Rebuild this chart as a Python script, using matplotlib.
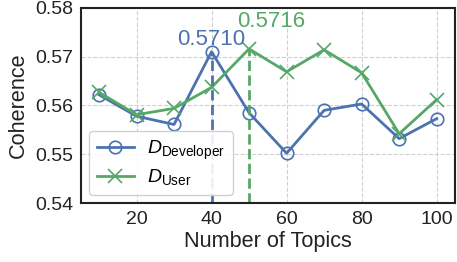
import matplotlib
matplotlib.use("Agg")
import matplotlib.pyplot as plt

topics = [10, 20, 30, 40, 50, 60, 70, 80, 90, 100]
coh_dev = [0.5622, 0.5578, 0.5561, 0.5710, 0.5585, 0.5502, 0.5590, 0.5603, 0.5532, 0.5573]
coh_user = [0.5627, 0.5581, 0.5594, 0.5637, 0.5716, 0.5669, 0.5714, 0.5667, 0.5542, 0.5612]
best_dev = (40, 0.5710)
best_user = (50, 0.5716)

blue = "#4C72B0"
green = "#55A868"

plt.rcParams["font.family"] = ["Liberation Sans", "DejaVu Sans"]
plt.rcParams["mathtext.fontset"] = "custom"
plt.rcParams["mathtext.rm"] = "Liberation Sans"
plt.rcParams["mathtext.it"] = "Liberation Sans:italic"

fig, ax = plt.subplots(figsize=(4.57, 2.62), dpi=100)
ax.plot(topics, coh_dev, color=blue, lw=2, marker="o", ms=9, mfc="none", mew=1.2,
        label=r"$D_{\mathrm{Developer}}$")
ax.plot(topics, coh_user, color=green, lw=2, marker="x", ms=10, mew=1.2,
        label=r"$D_{\mathrm{User}}$")

ax.vlines(best_dev[0], 0.54, best_dev[1], color=blue, ls="--", lw=2)
ax.vlines(best_user[0], 0.54, best_user[1], color=green, ls="--", lw=2)
ax.text(best_dev[0], best_dev[1] + 0.0004, f"{best_dev[1]:.4f}", color=blue,
        fontsize=16, ha="center", va="bottom")
ax.text(best_user[0] + 6, best_user[1] + 0.0034, f"{best_user[1]:.4f}", color=green,
        fontsize=16, ha="center", va="bottom")

ax.set_xlim(5.3, 104.8)
ax.set_ylim(0.54, 0.58)
ax.set_xticks([20, 40, 60, 80, 100])
ax.set_yticks([0.54, 0.55, 0.56, 0.57, 0.58])
ax.tick_params(labelsize=14, length=0, pad=6, labelcolor="#222222")
ax.grid(True, ls="--", color="#d0d0d0", lw=0.8)
for s in ax.spines.values():
    s.set_color("#222222")
    s.set_linewidth(1.5)
ax.set_xlabel("Number of Topics", fontsize=15.6, color="#222222", labelpad=2)
ax.set_ylabel("Coherence", fontsize=15.6, color="#222222", labelpad=4)
ax.legend(loc="lower left", fontsize=14, fancybox=True, framealpha=0.9,
          edgecolor="#cccccc", handlelength=1.9, handletextpad=0.7,
          borderaxespad=0.4, labelspacing=0.3)

fig.subplots_adjust(left=0.178, right=0.995, top=0.97, bottom=0.225)
fig.savefig("out.png", dpi=100)
